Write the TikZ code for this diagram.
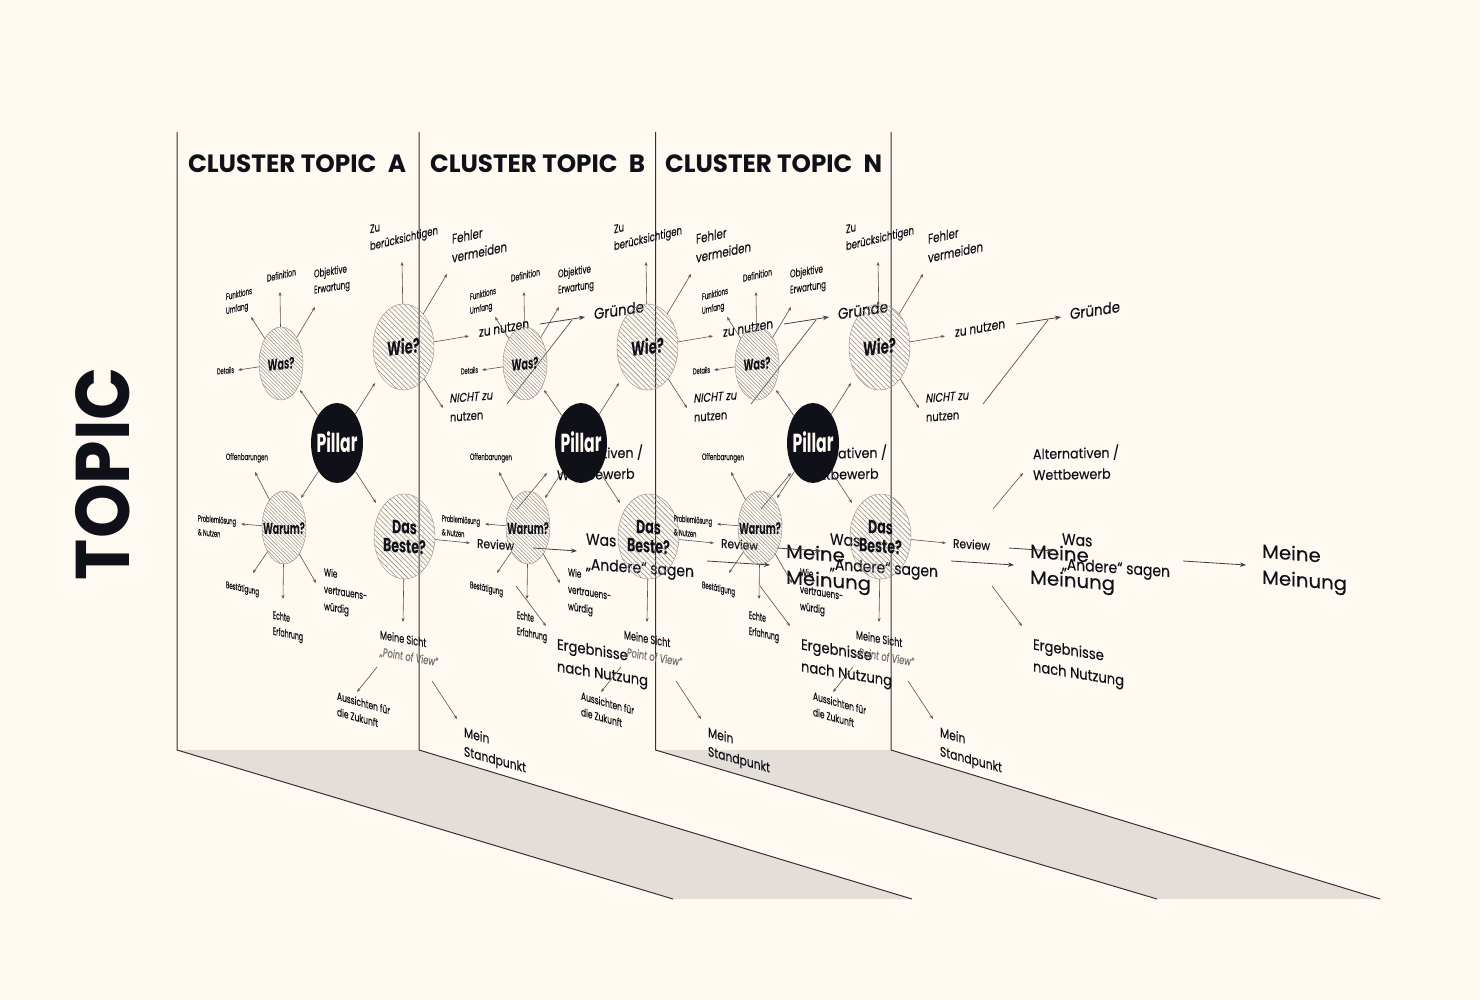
\documentclass[tikz,border=0pt]{standalone}
\usepackage{graphicx}
\usepackage{fontspec}
\setmainfont{Poppins}[UprightFeatures={FakeBold=0.3},ItalicFeatures={FakeBold=0.2}]
\usetikzlibrary{shapes.geometric,patterns.meta,arrows.meta}
\definecolor{paper}{HTML}{FFFAF1}
\definecolor{ink}{HTML}{101018}
\definecolor{floorgrey}{HTML}{E4DED8}
\definecolor{wire}{HTML}{55534F}
\definecolor{hatch}{HTML}{8E8C88}
\tikzset{
  lbl/.style={inner sep=0pt,outer sep=0pt,text=ink},
  arr/.style={draw=wire,line width=.6pt,-{Stealth[length=4pt,width=3pt]}},
  arrbig/.style={draw=ink!80!paper,line width=.8pt,-{Stealth[length=6pt,width=4.5pt]}},
  plain/.style={draw=wire,line width=.7pt},
  hatchA/.style={ellipse,inner sep=0pt,draw=hatch,line width=.4pt,pattern={Lines[angle=-45,distance=2.6pt,line width=.45pt]},pattern color=hatch},
  hatchB/.style={ellipse,inner sep=0pt,draw=hatch,line width=.4pt,pattern={Lines[angle=-45,distance=3.6pt,line width=.55pt]},pattern color=hatch},
  pillarstyle/.style={ellipse,inner sep=0pt,fill=ink,draw=none},
  wall/.style={draw=black!80!paper,line width=1pt},
}
% name, x, y, size, leading, slant, target width, body
\newcommand{\tl}[8]{%
  \node[lbl,anchor=west,yslant=#6] (\L-#1) at (#2,#3+1.5) {\fontsize{#4}{#5}\selectfont\resizebox*{#7pt}{\totalheight}{\begin{tabular}{@{}l@{}}#8\end{tabular}}};}
% node to label, size, leading, slant, target width, colour, body
\newcommand{\cl}[7]{%
  \node[lbl,text=#6,yslant=#4,yshift=-3pt] (\L-#1t) at (\L-#1) {\fontsize{#2}{#3}\selectfont\bfseries\resizebox*{#5pt}{\totalheight}{\begin{tabular}{@{}c@{}}#7\end{tabular}}};}
\newcommand{\clusterlayer}[2]{%
\def\L{#1}%
\begin{scope}[xshift=#2pt]
  \node[hatchA,minimum width=44pt,minimum height=73pt] (\L-was) at (281,363.5) {};
  \node[hatchB,minimum width=61pt,minimum height=86pt] (\L-wie) at (403.5,347) {};
  \node[hatchA,minimum width=44pt,minimum height=73pt] (\L-warum) at (284,527.5) {};
  \node[hatchB,minimum width=61pt,minimum height=85pt] (\L-beste) at (404.5,536.5) {};
  \node[pillarstyle,minimum width=52pt,minimum height=80pt] (\L-pillar) at (337,443) {};
  \cl{was}{16}{18}{.12}{27}{ink}{Was?}
  \cl{wie}{20}{22}{.1}{33}{ink}{Wie?}
  \cl{warum}{16}{18}{0}{42}{ink}{Warum?}
  \cl{beste}{19}{17}{-.06}{43}{ink}{Das\\Beste?}
  \cl{pillar}{26}{28}{.02}{41}{paper}{Pillar}
  % free ends
  \coordinate (\L-a1) at (251,317);
  \coordinate (\L-a2) at (280,292);
  \coordinate (\L-a3) at (315,307);
  \coordinate (\L-a4) at (238,370);
  \coordinate (\L-a5) at (300,390);
  \coordinate (\L-a6) at (375,383);
  \coordinate (\L-a7) at (301,498);
  \coordinate (\L-a8) at (376,503);
  \coordinate (\L-a9) at (255,472);
  \coordinate (\L-a10) at (241,524);
  \coordinate (\L-a11) at (253,573);
  \coordinate (\L-a12) at (283,599);
  \coordinate (\L-a13) at (316,583);
  \coordinate (\L-a14) at (402,262);
  \coordinate (\L-a15) at (447,274);
  \coordinate (\L-a16) at (469,336);
  \coordinate (\L-a17) at (443,408);
  \coordinate (\L-a18) at (470,543);
  \coordinate (\L-a19) at (403,622);
  \foreach \n/\t in {was/1,was/2,was/3,was/4,pillar/5,pillar/6,pillar/7,pillar/8,warum/9,warum/10,warum/11,warum/12,warum/13,wie/14,wie/15,wie/16,wie/17,beste/18,beste/19}
    \draw[arr] (\L-\n) -- (\L-a\t);
  \coordinate (\L-b1) at (377,667);  \coordinate (\L-b2) at (357,692);
  \coordinate (\L-b3) at (432,681);  \coordinate (\L-b4) at (457,719);
  \draw[arr] (\L-b1) -- (\L-b2);
  \draw[arr] (\L-b3) -- (\L-b4);
  \coordinate (\L-c1) at (540,324);  \coordinate (\L-c2) at (585,317);
  \coordinate (\L-c3) at (507,404);  \coordinate (\L-c4) at (572,320);
  \coordinate (\L-c5) at (517,509);  \coordinate (\L-c6) at (547,473);
  \coordinate (\L-c7) at (533,548);  \coordinate (\L-c8) at (577,551);
  \coordinate (\L-c9) at (516,586);  \coordinate (\L-c10) at (546,626);
  \coordinate (\L-c11) at (707,561); \coordinate (\L-c12) at (770,565);
  \draw[arrbig] (\L-c1) -- (\L-c2);
  \draw[plain] (\L-c3) -- (\L-c4);
  \draw[arr] (\L-c5) -- (\L-c6);
  \draw[arrbig] (\L-c7) -- (\L-c8);
  \draw[arr] (\L-c9) -- (\L-c10);
  \draw[arrbig] (\L-c11) -- (\L-c12);
  % labels
  \tl{funk}{226}{303}{9.5}{14}{.25}{26}{Funktions\\Umfang}
  \tl{defi}{267}{278}{10}{12}{.23}{29}{Definition}
  \tl{obje}{314}{281}{11}{16}{.16}{36}{Objektive\\Erwartung}
  \tl{deta}{217}{371}{8.5}{10}{.1}{17}{Details}
  \tl{zube}{370}{237}{12}{17}{.24}{68}{Zu\\berücksichtigen}
  \tl{fehl}{452}{248}{13.5}{19}{.21}{55}{Fehler\\vermeiden}
  \tl{zunu}{479}{332}{13.5}{18}{.18}{50}{zu nutzen}
  \tl{grue}{594}{314}{15.5}{20}{.15}{50}{Gründe}
  \tl{nich}{450}{407}{12.5}{19}{.08}{43}{{\itshape NICHT zu}\\nutzen}
  \tl{offe}{226}{456}{9}{12}{-.01}{42}{Offenbarungen}
  \tl{prob}{198}{524}{9}{14}{-.09}{38}{Problemlösung\\\& Nutzen}
  \tl{best}{226}{584}{9.5}{12}{-.22}{33}{Bestätigung}
  \tl{echt}{273}{622}{11}{16}{-.2}{30}{Echte\\Erfahrung}
  \tl{vert}{324}{588}{11}{17}{-.16}{43}{Wie\\vertrauens-\\würdig}
  \tl{sich}{380}{642.5}{12}{17}{-.18}{58}{Meine Sicht\\{\color{ink!60!paper}\itshape „Point of View“}}
  \tl{auss}{337}{703}{11}{16}{-.28}{53}{Aussichten für\\die Zukunft}
  \tl{stan}{464}{741}{13.5}{19}{-.27}{62}{Mein\\Standpunkt}
  \tl{alte}{557}{464}{14}{21}{.02}{86}{Alternativen /\\Wettbewerb}
  \tl{revi}{477}{543}{12.5}{16}{-.07}{37}{Review}
  \tl{ande}{586}{550.5}{16}{25}{-.07}{108}{Was\\„Andere“ sagen}
  \tl{erge}{557}{654.5}{15}{22}{-.16}{91}{Ergebnisse\\nach Nutzung}
  \tl{mein}{786}{564}{19}{26}{-.08}{85}{Meine\\Meinung}
\end{scope}}
\begin{document}
\begin{tikzpicture}[x=1pt,y=-1pt]
  \fill[paper] (0,0) rectangle (1480,1000);
  \useasboundingbox (0,0) rectangle (1480,1000);
  \fill[floorgrey] (177,750) -- (419,750) -- (912,899) -- (673,899) -- cycle;
  \fill[floorgrey] (655.5,750) -- (891,750) -- (1380,899) -- (1157,899) -- cycle;
  \coordinate (w1t) at (177,132); \coordinate (w1b) at (177,750); \coordinate (w1e) at (673,899);
  \coordinate (w2t) at (419,132); \coordinate (w2b) at (419,750); \coordinate (w2e) at (912,899);
  \coordinate (w3t) at (655.5,132); \coordinate (w3b) at (655.5,750); \coordinate (w3e) at (1157,899);
  \coordinate (w4t) at (891,132); \coordinate (w4b) at (891,750); \coordinate (w4e) at (1380,899);
  \draw[wall] (w1t) -- (w1b) -- (w1e);
  \draw[wall] (w2t) -- (w2b) -- (w2e);
  \draw[wall] (w3t) -- (w3b) -- (w3e);
  \draw[wall] (w4t) -- (w4b) -- (w4e);
  \clusterlayer{A}{0}
  \clusterlayer{B}{244}
  \clusterlayer{N}{476}
  \def\L{title}
  \tl{a}{188}{165}{25}{28}{0}{218}{\bfseries CLUSTER TOPIC\hspace{.45em}A}
  \tl{b}{430}{165}{25}{28}{0}{215}{\bfseries CLUSTER TOPIC\hspace{.45em}B}
  \tl{n}{665}{165}{25}{28}{0}{217}{\bfseries CLUSTER TOPIC\hspace{.45em}N}
  \node[lbl,rotate=90] (topic) at (103,473.5) {\fontsize{76}{80}\selectfont\bfseries\resizebox*{213pt}{\totalheight}{TOPIC}};
\end{tikzpicture}
\end{document}
